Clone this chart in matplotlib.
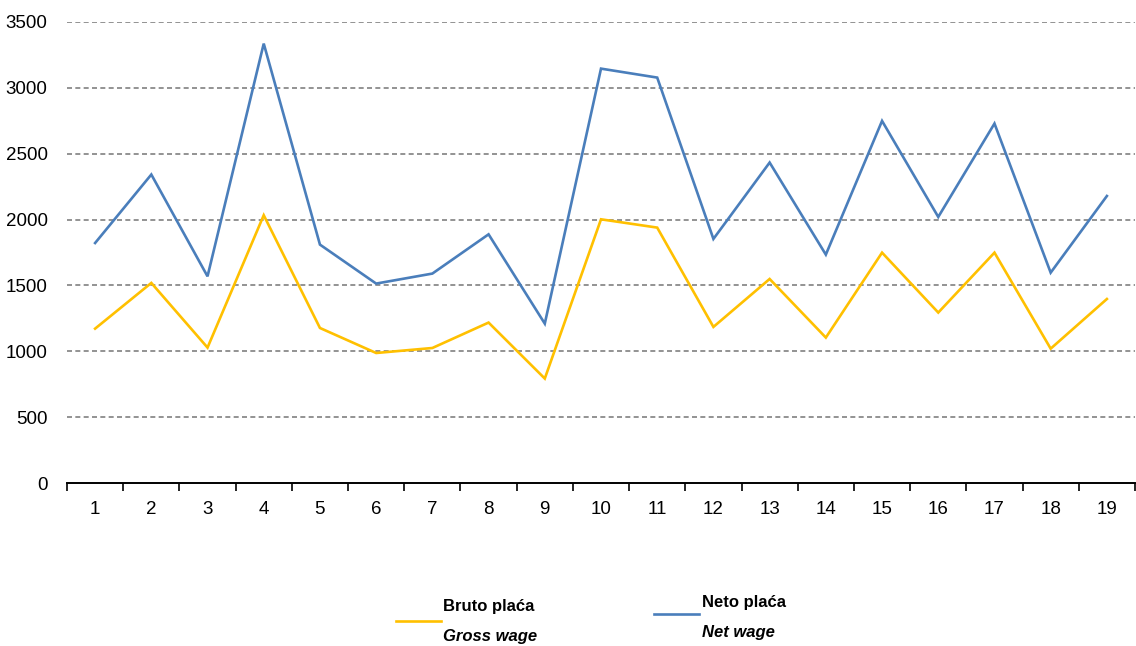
import matplotlib
matplotlib.use("Agg")
import matplotlib.pyplot as plt
from matplotlib.lines import Line2D
import numpy as np

categories = [str(i) for i in range(1, 20)]
gross_wage = [1172, 1519, 1028, 2033, 1177, 987, 1025, 1218, 793, 2002,
              1939, 1185, 1549, 1104, 1749, 1294, 1749, 1020, 1397]
net_wage = [1822, 2342, 1569, 3336, 1810, 1514, 1590, 1888, 1210, 3146,
            3078, 1853, 2433, 1734, 2749, 2020, 2729, 1597, 2179]
y_ticks = [0, 500, 1000, 1500, 2000, 2500, 3000, 3500]

plt.rcParams['font.family'] = ['Liberation Sans', 'DejaVu Sans']

fig = plt.figure(figsize=(11.36, 6.46), dpi=100)
ax = fig.add_axes([67/1136, 1-483/646, (1135-67)/1136, (483-22)/646])

x = np.arange(1, len(categories) + 1)
ax.plot(x, gross_wage, color='#FFC000', lw=1.9, solid_joinstyle='miter')
ax.plot(x, net_wage, color='#4A7EBB', lw=1.9, solid_joinstyle='miter')

ax.set_xlim(0.5, len(categories) + 0.5)
ax.set_ylim(0, 3500)
ax.set_yticks(y_ticks)
ax.set_yticklabels([str(v) for v in y_ticks], fontsize=13.5)
ax.set_xticks(x)
ax.set_xticklabels(categories, fontsize=13.5)
ax.set_xticks(np.arange(0.5, len(categories) + 1, 1), minor=True)
ax.tick_params(axis='x', which='major', length=0, pad=13)
ax.tick_params(axis='x', which='minor', length=6, width=1.2, direction='out', color='black')
ax.tick_params(axis='y', length=0, pad=14)

for v in y_ticks[1:]:
    ax.axhline(v, color='#808080', lw=1.2, ls=(0, (3, 2)), zorder=0)

for s in ['left', 'right', 'top']:
    ax.spines[s].set_visible(False)
ax.spines['bottom'].set_color('black')
ax.spines['bottom'].set_linewidth(1.4)

# legend
fig.add_artist(Line2D([396/1136, 441/1136], [1-621/646, 1-621/646], color='#FFC000', lw=1.9))
fig.text(443/1136, 1-607/646, 'Bruto plaća', fontsize=12, fontweight='bold', va='center', ha='left')
fig.text(443/1136, 1-636/646, 'Gross wage', fontsize=12, fontweight='bold', style='italic', va='center', ha='left')
fig.add_artist(Line2D([654/1136, 699/1136], [1-614/646, 1-614/646], color='#4A7EBB', lw=1.9))
fig.text(702/1136, 1-603/646, 'Neto plaća', fontsize=12, fontweight='bold', va='center', ha='left')
fig.text(702/1136, 1-632/646, 'Net wage', fontsize=12, fontweight='bold', style='italic', va='center', ha='left')

fig.savefig('out.png', dpi=100)
